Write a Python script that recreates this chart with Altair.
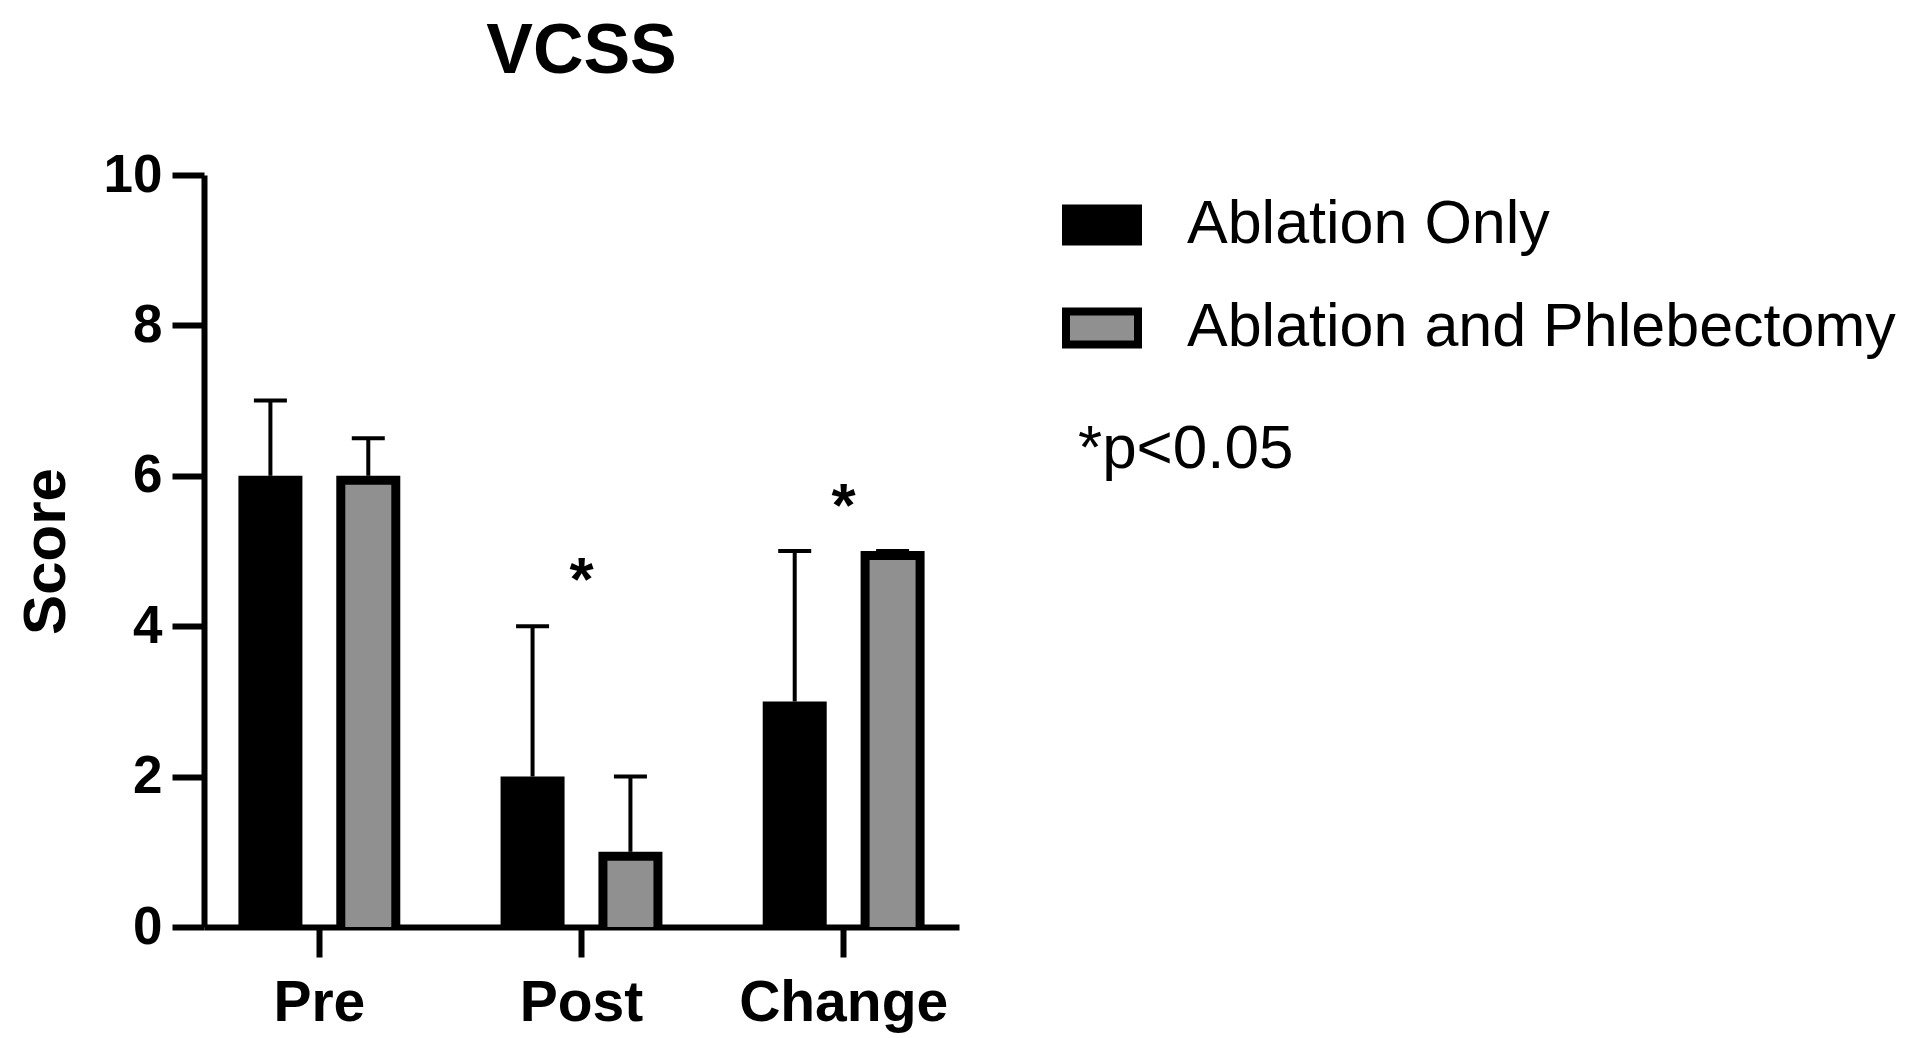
import altair as alt
import pandas as pd

categories = ["Pre", "Post", "Change"]
groups = ["Ablation Only", "Ablation and Phlebectomy"]
mean_ablation = [6, 2, 3]
upper_ablation = [7, 4, 5]
mean_combined = [6, 1, 5]
upper_combined = [6.5, 2, 5]
star_categories = ["Post", "Change"]
star_y = [4.6, 5.58]
note_text = "*p<0.05"

rows = []
for i, c in enumerate(categories):
    rows.append({"cat": c, "grp": groups[0], "mean": mean_ablation[i], "upper": upper_ablation[i]})
    rows.append({"cat": c, "grp": groups[1], "mean": mean_combined[i], "upper": upper_combined[i]})
df = pd.DataFrame(rows)
stars = pd.DataFrame({"cat": star_categories, "y": star_y, "t": ["*"] * len(star_categories)})
note = pd.DataFrame({"t": [note_text]})

FONT = "Liberation Sans"

x_enc = alt.X("cat:N", sort=categories, title=None,
              scale=alt.Scale(paddingInner=0.12, paddingOuter=0.0),
              axis=alt.Axis(labelAngle=0, labelFont=FONT, labelFontSize=57, labelFontWeight="bold",
                            labelColor="black", labelPadding=18, labelLimit=1000,
                            tickSize=30, tickWidth=6,
                            tickColor="black", domainColor="black", domainWidth=6))
xoff = alt.XOffset("grp:N", sort=groups, scale=alt.Scale(paddingInner=0.337, paddingOuter=0.347))
color = alt.Color("grp:N", sort=groups, title=None,
                  scale=alt.Scale(domain=groups, range=["#000000", "#909090"]),
                  legend=alt.Legend(orient="none", legendX=858, legendY=10, padding=0,
                                    symbolType="M-1,-0.46H1V0.46H-1Z", symbolSize=5184,
                                    symbolStrokeColor="black", symbolStrokeWidth=8,
                                    symbolOpacity=1,
                                    labelFont=FONT, labelFontSize=61, labelColor="black",
                                    labelOffset=45, rowPadding=30, labelLimit=1000))
y_scale = alt.Scale(domain=[0, 10], nice=False)
y_axis = alt.Axis(values=[0, 2, 4, 6, 8, 10], format="d", title="Score", titleFont=FONT, titleFontSize=60,
                  titleFontWeight="bold", titleColor="black", titlePadding=26,
                  labelFont=FONT, labelFontSize=53, labelFontWeight="bold", labelColor="black",
                  labelPadding=10, tickSize=32, tickWidth=6, tickColor="black",
                  domainColor="black", domainWidth=6, grid=False)

# outer (black) body of every bar
outline = alt.Chart(df).mark_bar(color="black", size=64, opacity=1).encode(
    x=x_enc, xOffset=xoff,
    y=alt.Y("mean:Q", scale=y_scale, axis=y_axis),
)
# inner fill of every bar (black for Ablation Only, grey for the combined group)
inner = alt.Chart(df).mark_bar(size=46, yOffset=9, opacity=1).encode(
    x=alt.X("cat:N", sort=categories), xOffset=xoff,
    y=alt.Y("mean:Q", scale=y_scale),
    y2=alt.datum(0),
    fill=color,
)
err = alt.Chart(df).mark_rule(color="black", strokeWidth=4).encode(
    x=alt.X("cat:N", sort=categories), xOffset=xoff,
    y=alt.Y("mean:Q", scale=y_scale), y2="upper:Q",
)
caps = alt.Chart(df).mark_tick(color="black", thickness=4, size=33, orient="horizontal", opacity=1).encode(
    x=alt.X("cat:N", sort=categories), xOffset=xoff,
    y=alt.Y("upper:Q", scale=y_scale),
)
star_marks = alt.Chart(stars).mark_text(font=FONT, fontSize=62, fontWeight="bold", color="black",
                                        baseline="middle", align="center").encode(
    x=alt.X("cat:N", sort=categories),
    y=alt.Y("y:Q", scale=y_scale),
    text="t:N",
)
note_mark = alt.Chart(note).mark_text(font=FONT, fontSize=62, color="black",
                                      baseline="middle", align="left").encode(
    x=alt.value(874), y=alt.value(274), text="t:N",
)

chart = alt.layer(outline, inner, err, caps, star_marks, note_mark).properties(
    width=755, height=752,
    title=alt.TitleParams("VCSS", font=FONT, fontSize=70, fontWeight="bold", color="black",
                          anchor="middle", offset=61),
    autosize=alt.AutoSizeParams(type="none"),
    padding={"left": 196, "top": 167, "right": 950, "bottom": 115},
).configure(background="white", view=alt.ViewConfig(stroke=None))

chart.save("out.html", embed_options={"renderer": "svg", "actions": False})
